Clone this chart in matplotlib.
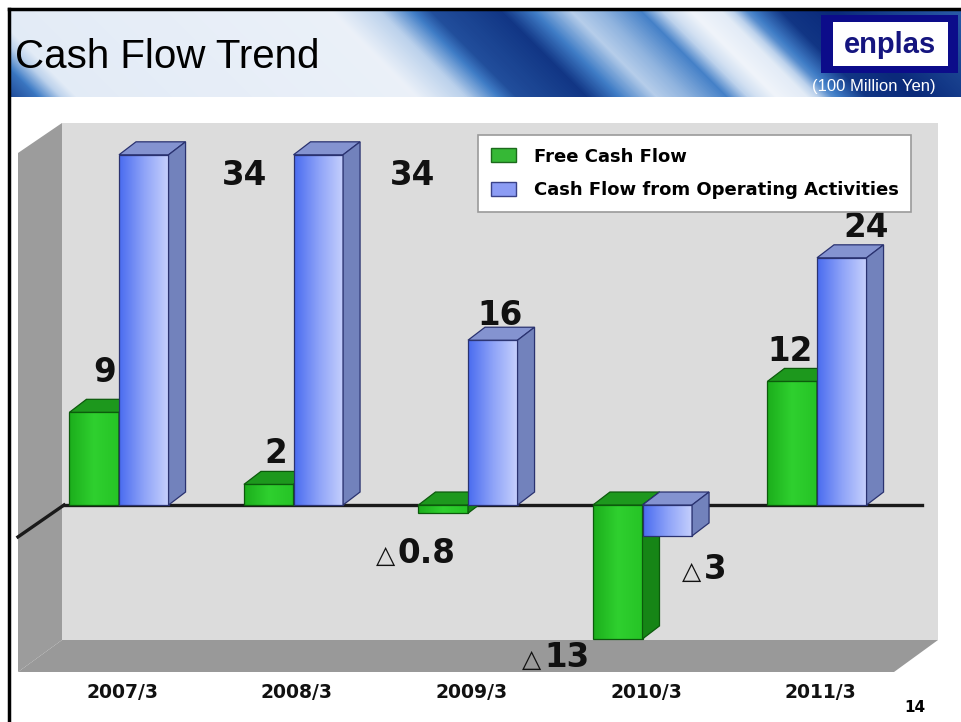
import numpy as np
import matplotlib.pyplot as plt
from matplotlib.patches import Polygon, Rectangle, Patch
from matplotlib.colors import LinearSegmentedColormap

# 100 million yen
years = ['2007/3', '2008/3', '2009/3', '2010/3', '2011/3']
free_cf = [9, 2, -0.8, -13, 12]
operating_cf = [34, 34, 16, -3, 24]
series_names = ['Free Cash Flow', 'Cash Flow from Operating Activities']

# where each value label sits, relative to the bar centre / bar end
free_lab_dx = [0.06, 0.04, -0.26, -0.42, -0.01]
free_lab_dy = [2.9, 2.1, -4.8, -2.7, 2.0]
oper_lab_dx = [0.58, 0.54, 0.04, 0.21, 0.14]
oper_lab_dy = [-2.9, -2.9, 1.5, -4.2, 2.0]

W, H = 962, 722
fig = plt.figure(figsize=(W / 100, H / 100), dpi=100)
fig.patch.set_facecolor('white')

# ---- slide background (pixel coordinates) ----
bg = fig.add_axes([0, 0, 1, 1], zorder=0)
bg.set_xlim(0, W)
bg.set_ylim(H, 0)
bg.axis('off')

# header banner with blue streaks
yy, xx = np.mgrid[0:87, 0:952]
u = xx + 10 - 1.0 * yy
knots = [-120, -90, -50, -10, 330, 380, 430, 500, 540, 570, 600, 640, 670, 690, 720, 745, 780, 830, 960]
levels = [0.95, 0.95, 0.7, 0.1, 0.05, 0.35, 0.85, 0.95, 0.6, 0.35, 0.45, 0.65, 0.2, 0.02, 0.1, 0.6, 0.95, 1.0, 0.8]
shade = np.interp(u, knots, levels)
banner_cmap = LinearSegmentedColormap.from_list(
    'banner', ['#f3f6fb', '#bcd2ec', '#3f7cc6', '#0a2a7a'])
bg.imshow(shade, cmap=banner_cmap, vmin=0, vmax=1, extent=[10, 962, 97, 10],
          aspect='auto', interpolation='bilinear', zorder=1)

# slide border
bg.plot([9, 9], [9, H], color='black', lw=2.5, zorder=5)
bg.plot([9, W], [9, 9], color='black', lw=2.5, zorder=5)

# chart walls
bg.add_patch(Polygon([(62, 123), (938, 123), (938, 640), (62, 640)], closed=True,
                     facecolor='#dcdcdc', edgecolor='none', zorder=1))
bg.add_patch(Polygon([(18, 153), (62, 123), (62, 640), (18, 672)], closed=True,
                     facecolor='#9c9c9c', edgecolor='none', zorder=1))
bg.add_patch(Polygon([(18, 672), (62, 640), (938, 640), (894, 672)], closed=True,
                     facecolor='#999999', edgecolor='none', zorder=1))

# logo
bg.add_patch(Rectangle((821, 15), 137, 58, facecolor='#0c0c8a', edgecolor='none', zorder=2))
bg.add_patch(Rectangle((833, 22), 115, 44, facecolor='white', edgecolor='none', zorder=3))
bg.text(890, 45, 'enplas', ha='center', va='center', color='#15157f', fontsize=21,
        fontweight='bold', family='Liberation Sans', zorder=4)
bg.text(874, 86, '(100 Million Yen)', ha='center', va='center', color='white', fontsize=12,
        family='Liberation Sans', zorder=4)

# title
bg.text(15, 57, 'Cash Flow Trend', ha='left', va='center', color='black', fontsize=29,
        family='Liberation Sans', zorder=4)
bg.text(915, 707, '14', ha='center', va='center', fontsize=11, fontweight='bold')

# ---- chart ----
ax = fig.add_axes([0, 0, 1, 1], zorder=1)
ax.patch.set_alpha(0)
ax.axis('off')

x0px, xstep = 119, 174.5
y0px, ystep = 505, 10.3
xlim = ((0 - x0px) / xstep, (W - x0px) / xstep)
ylim = ((y0px - H) / ystep, y0px / ystep)

x = np.arange(len(years))
w = 0.284
ddx, ddy = 0.0974, 1.26   # depth of the 3D boxes

ax.plot([-0.315, 4.60], [0, 0], color='#1a1a1a', lw=2.4, zorder=1.5)
ax.plot([-0.579, -0.315], [-3.1, 0], color='#1a1a1a', lw=2.4, zorder=1.5)

green_cmap = LinearSegmentedColormap.from_list('g', ['#1cae1c', '#2fd02f', '#26c426'])
blue_cmap = LinearSegmentedColormap.from_list('b', ['#4a6cf0', '#8ea3f8', '#c6d0fd'])


def draw_boxes(bars, cmap, top_c, side_c, edge_c, z):
    grad = np.linspace(0, 1, 64).reshape(1, -1)
    for b in bars:
        bx0 = b.get_x()
        bx1 = bx0 + b.get_width()
        lo = min(b.get_y(), b.get_y() + b.get_height())
        hi = max(b.get_y(), b.get_y() + b.get_height())
        ax.imshow(grad, cmap=cmap, extent=[bx0, bx1, lo, hi], aspect='auto',
                  origin='lower', interpolation='bilinear', zorder=z + 0.1)
        ax.add_patch(Rectangle((bx0, lo), bx1 - bx0, hi - lo, fill=False,
                               edgecolor=edge_c, lw=0.9, zorder=z + 0.2))
        ax.add_patch(Polygon([(bx0, hi), (bx1, hi), (bx1 + ddx, hi + ddy), (bx0 + ddx, hi + ddy)],
                             closed=True, facecolor=top_c, edgecolor=edge_c, lw=0.9, zorder=z + 0.2))
        ax.add_patch(Polygon([(bx1, lo), (bx1, hi), (bx1 + ddx, hi + ddy), (bx1 + ddx, lo + ddy)],
                             closed=True, facecolor=side_c, edgecolor=edge_c, lw=0.9, zorder=z + 0.2))


green_bars = ax.bar(x - w / 2, free_cf, w, color='#28c428', zorder=2)
blue_bars = ax.bar(x + w / 2, operating_cf, w, color='#8ea3f8', zorder=3)
draw_boxes(green_bars, green_cmap, '#1d981d', '#168516', '#0c5a0c', 2)
draw_boxes(blue_bars, blue_cmap, '#8493d0', '#7282bc', '#2a3270', 3)


def value_label(xc, v, dx, dy):
    font = dict(fontsize=23.5, fontweight='bold', family='DejaVu Sans', color='#111111', zorder=6)
    if v < 0:
        ax.text(xc + dx, v + dy, f'{abs(v):g}', ha='left', va='baseline', **font)
        ax.annotate('△', (xc + dx, v + dy), xytext=(-2, 0), textcoords='offset points',
                    ha='right', va='baseline', fontsize=18, color='#111111',
                    family='DejaVu Sans', zorder=6)
    else:
        ax.text(xc + dx, v + dy, f'{v:g}', ha='center', va='baseline', **font)


for i in range(len(years)):
    value_label(x[i] - w / 2, free_cf[i], free_lab_dx[i], free_lab_dy[i])
    value_label(x[i] + w / 2, operating_cf[i], oper_lab_dx[i], oper_lab_dy[i])
    ax.text(x[i] + 0.02, -18.2, years[i], ha='center', va='center', fontsize=13.5,
            fontweight='bold', color='#111111')

handles = [Patch(facecolor='#36b836', edgecolor='#1c6a1c'),
           Patch(facecolor='#8c9cf4', edgecolor='#3a4288')]
leg = ax.legend(handles, series_names, loc='upper left',
                bbox_to_anchor=(478 / W, 1 - 135 / H), bbox_transform=fig.transFigure,
                borderaxespad=0, fancybox=False, framealpha=1, edgecolor='#9a9a9a',
                prop={'family': 'DejaVu Sans', 'weight': 'bold', 'size': 13},
                handlelength=1.4, handleheight=0.8, handletextpad=1.0,
                labelspacing=0.85, borderpad=0.7)
leg.set_zorder(7)
leg.get_frame().set_linewidth(1.2)

ax.set_xlim(*xlim)
ax.set_ylim(*ylim)

fig.savefig('out.png', dpi=100)
